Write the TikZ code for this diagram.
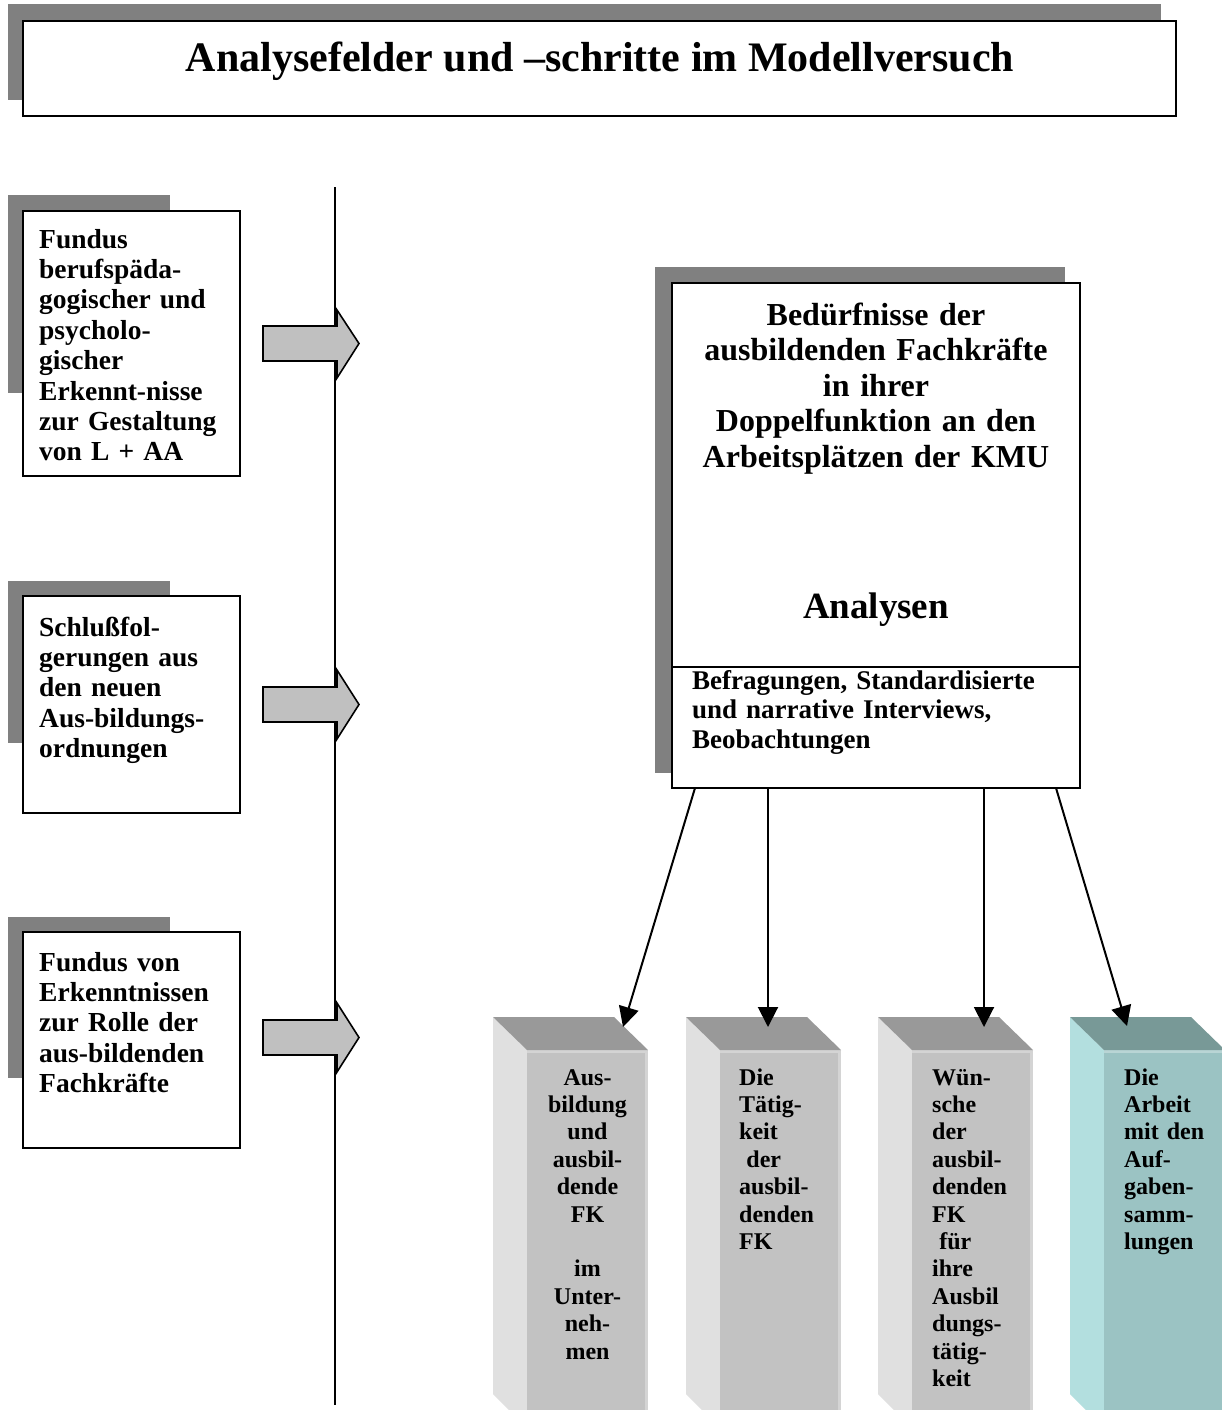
\documentclass[tikz,border=0pt]{standalone}
\usepackage{fontspec}
\setmainfont{Liberation Serif}
\usetikzlibrary{arrows.meta}
\definecolor{shadowgray}{RGB}{128,128,128}
\definecolor{arrowgray}{RGB}{192,192,192}
\definecolor{pside}{RGB}{224,224,224}
\definecolor{pfront}{RGB}{194,194,194}
\definecolor{ptop}{RGB}{153,153,153}
\definecolor{cside}{RGB}{179,223,223}
\definecolor{cfront}{RGB}{155,195,195}
\definecolor{ctop}{RGB}{120,153,151}
\newcommand{\pillarshape}[4]{%
  \begin{scope}[xshift=#1pt]
    \fill[#2] (-34,1017) -- (0,1050) -- (0,1410) -- (-18,1410) -- (-34,1394) -- cycle;
    \fill[#3] (0,1050) rectangle (121,1410);
    \fill[#3!70!white] (0,1050) rectangle (121,1053);
    \fill[#3!70!white] (118,1050) rectangle (121,1410);
    \fill[#4] (-34,1017) -- (87,1017) -- (121,1050) -- (0,1050) -- cycle;
  \end{scope}}
\begin{document}
\begin{tikzpicture}[x=1pt,y=-1pt,
  shadowbox/.style={fill=shadowgray, draw=none},
  whitebox/.style={fill=white, draw=black, line width=2pt},
  blockarrow/.style={fill=arrowgray, draw=black, line width=1.6pt, line join=miter},
  conn/.style={draw=black, line width=2pt, -{Triangle[length=20pt,width=20pt]}},
  lefttext/.style={font=\bfseries\fontsize{27.5}{30.4}\selectfont, text width=200pt, align=left, anchor=base west, inner sep=0pt},
  pillartext/.style={font=\bfseries\fontsize{24}{27.4}\selectfont, text width=100pt, inner sep=0pt}]
\useasboundingbox (0,0) rectangle (1222,1410);
\fill[white] (0,0) rectangle (1222,1410);

% title
\fill[shadowbox] (8,4) rectangle (1161,100);
\draw[whitebox] (23,21) rectangle (1176,116);
\node[font=\bfseries\fontsize{42}{48}\selectfont, anchor=base, inner sep=0pt] (title) at (600,72) {Analysefelder und –schritte im Modellversuch};

% vertical line
\coordinate (vtop) at (335,187);
\coordinate (vbot) at (335,1405);
\draw[line width=2pt] (vtop) -- (vbot);

% left box 1
\fill[shadowbox] (8,195) rectangle (170,393);
\draw[whitebox] (23,211) rectangle (240,476);
\node[lefttext] (l1) at (39,248) {Fundus\\berufspäda-\\gogischer und\\psycholo-\\gischer\\Erkennt-nisse\\zur Gestaltung\\von L + AA};
\draw[blockarrow] (263,326) -- (337,326) -- (337,310) -- (359,343.5) -- (337,378) -- (337,361) -- (263,361) -- cycle;

% left box 2
\fill[shadowbox] (8,581) rectangle (170,743);
\draw[whitebox] (23,596) rectangle (240,813);
\node[lefttext] (l2) at (39,636) {Schlußfol-\\gerungen aus\\den neuen\\Aus-bildungs-\\ordnungen};
\draw[blockarrow] (263,687) -- (337,687) -- (337,670) -- (359,704.5) -- (337,739) -- (337,722) -- (263,722) -- cycle;

% left box 3
\fill[shadowbox] (8,917) rectangle (170,1078);
\draw[whitebox] (23,932) rectangle (240,1148);
\node[lefttext] (l3) at (39,971) {Fundus von\\Erkenntnissen\\zur Rolle der\\aus-bildenden\\Fachkräfte};
\draw[blockarrow] (263,1020) -- (337,1020) -- (337,1003) -- (359,1037.5) -- (337,1072) -- (337,1055) -- (263,1055) -- cycle;

% big box
\fill[shadowbox] (655,267) rectangle (1065,773);
\draw[whitebox] (672,283) rectangle (1080,788);
\draw[line width=2pt] (672,667) -- (1080,667);
\node[font=\bfseries\fontsize{32}{35.5}\selectfont, text width=400pt, align=center, anchor=base, inner sep=0pt] (need) at (876,325) {Bedürfnisse der\\ausbildenden Fachkräfte\\in ihrer\\Doppelfunktion an den\\Arbeitsplätzen der KMU};
\node[font=\bfseries\fontsize{37}{40}\selectfont, anchor=base, inner sep=0pt] (ana) at (876,618) {Analysen};
\node[font=\bfseries\fontsize{27}{29.5}\selectfont, text width=385pt, align=left, anchor=base west, inner sep=0pt] (meth) at (692,689) {Befragungen, Standardisierte\\und narrative Interviews,\\Beobachtungen};

% pillars
\pillarshape{527}{pside}{pfront}{ptop}
\pillarshape{720}{pside}{pfront}{ptop}
\pillarshape{912}{pside}{pfront}{ptop}
\pillarshape{1104}{cside}{cfront}{ctop}

\node[pillartext, align=center, anchor=base] (p1) at (587.5,1085) {Aus-\\bildung\\und\\ausbil-\\dende\\FK\\[27.4pt]im\\Unter-\\neh-\\men};
\node[pillartext, align=left, anchor=base west] (p2) at (739,1085) {Die\\Tätig-\\keit\\\hspace*{0.3em}der\\ausbil-\\denden\\FK};
\node[pillartext, align=left, anchor=base west] (p3) at (932,1085) {Wün-\\sche\\der\\ausbil-\\denden\\FK\\\hspace*{0.3em}für\\ihre\\Ausbil\\dungs-\\tätig-\\keit};
\node[pillartext, align=left, anchor=base west] (p4) at (1124,1085) {Die\\Arbeit\\mit den\\Auf-\\gaben-\\samm-\\lungen};

% connectors
\coordinate (s1) at (695,788);
\coordinate (s2) at (768,788);
\coordinate (s3) at (984,788);
\coordinate (s4) at (1056,788);
\coordinate (t1) at (623,1027);
\coordinate (t2) at (768,1027);
\coordinate (t3) at (984,1027);
\coordinate (t4) at (1127,1026);
\draw[conn] (s1) -- (t1);
\draw[conn] (s2) -- (t2);
\draw[conn] (s3) -- (t3);
\draw[conn] (s4) -- (t4);
\end{tikzpicture}
\end{document}
